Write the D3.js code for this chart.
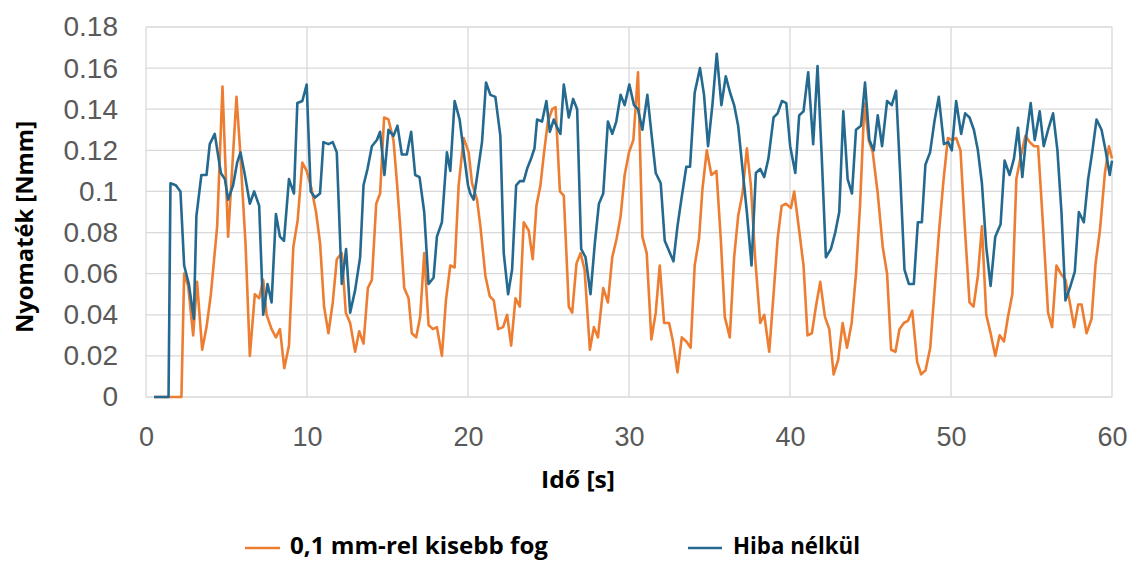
<!DOCTYPE html>
<html><head><meta charset="utf-8">
<script src="https://cdn.jsdelivr.net/npm/d3@7/dist/d3.min.js"></script>
<style>body{margin:0;background:#fff}svg{display:block}</style>
</head><body>
<svg id="c" width="1136" height="562"></svg>
<script>
const seriesNames = ["0,1 mm-rel kisebb fog", "Hiba nélkül"];
const xTicks = [0, 10, 20, 30, 40, 50, 60];
const yTicks = [0, 0.02, 0.04, 0.06, 0.08, 0.1, 0.12, 0.14, 0.16, 0.18];
const yTickLabels = ["0", "0.02", "0.04", "0.06", "0.08", "0.1", "0.12", "0.14", "0.16", "0.18"];
const xTitle = "Idő [s]";
const yTitle = "Nyomaték [Nmm]";

// [time s, torque Nmm]
const orange = [[0.5,0],[2.2,0],[2.37,0.060],[2.62,0.054],[2.93,0.030],[3.17,0.056],[3.49,0.023],[3.76,0.034],[4.03,0.050],[4.42,0.083],[4.75,0.151],[5.1,0.078],[5.62,0.146],[5.83,0.122],[6.18,0.075],[6.45,0.020],[6.76,0.050],[7.03,0.048],[7.28,0.057],[7.49,0.040],[7.8,0.033],[8.07,0.029],[8.32,0.033],[8.59,0.014],[8.88,0.025],[9.15,0.073],[9.42,0.086],[9.71,0.114],[9.98,0.110],[10.29,0.101],[10.56,0.090],[10.81,0.075],[11.06,0.044],[11.33,0.031],[11.6,0.046],[11.85,0.067],[12.16,0.070],[12.41,0.041],[12.68,0.036],[12.99,0.022],[13.24,0.032],[13.51,0.026],[13.78,0.053],[14.03,0.057],[14.3,0.094],[14.54,0.099],[14.79,0.136],[15.06,0.135],[15.37,0.125],[15.58,0.105],[15.79,0.083],[16.04,0.053],[16.31,0.048],[16.51,0.031],[16.78,0.029],[17.03,0.039],[17.28,0.070],[17.55,0.035],[17.82,0.033],[18.07,0.034],[18.38,0.020],[18.63,0.047],[18.9,0.064],[19.17,0.063],[19.42,0.103],[19.73,0.126],[20.04,0.119],[20.25,0.104],[20.56,0.096],[20.77,0.083],[21.08,0.059],[21.35,0.049],[21.6,0.047],[21.87,0.033],[22.18,0.034],[22.43,0.040],[22.68,0.025],[22.95,0.048],[23.22,0.044],[23.46,0.085],[23.77,0.081],[24.02,0.067],[24.25,0.093],[24.5,0.103],[24.71,0.118],[24.96,0.134],[25.23,0.140],[25.44,0.141],[25.71,0.100],[25.95,0.098],[26.26,0.044],[26.47,0.041],[26.74,0.065],[26.99,0.070],[27.24,0.062],[27.57,0.023],[27.82,0.034],[28.07,0.029],[28.4,0.053],[28.69,0.046],[28.96,0.068],[29.23,0.077],[29.48,0.088],[29.73,0.108],[30.0,0.119],[30.27,0.125],[30.56,0.158],[30.83,0.078],[31.1,0.070],[31.39,0.028],[31.66,0.041],[31.91,0.064],[32.18,0.036],[32.49,0.036],[32.73,0.027],[33.01,0.012],[33.28,0.029],[33.56,0.027],[33.83,0.024],[34.08,0.064],[34.35,0.077],[34.56,0.101],[34.83,0.120],[35.12,0.108],[35.43,0.110],[35.7,0.077],[35.95,0.039],[36.26,0.029],[36.53,0.068],[36.78,0.088],[37.05,0.099],[37.32,0.121],[37.57,0.103],[37.84,0.067],[38.15,0.036],[38.4,0.040],[38.71,0.022],[38.98,0.050],[39.23,0.077],[39.48,0.093],[39.75,0.094],[40.06,0.092],[40.26,0.100],[40.57,0.081],[40.84,0.064],[41.09,0.030],[41.36,0.031],[41.61,0.044],[41.88,0.056],[42.17,0.039],[42.44,0.033],[42.71,0.011],[42.99,0.018],[43.27,0.036],[43.54,0.024],[43.83,0.036],[44.1,0.060],[44.35,0.093],[44.62,0.143],[44.89,0.125],[45.14,0.119],[45.45,0.099],[45.76,0.073],[46.03,0.060],[46.28,0.023],[46.55,0.022],[46.8,0.033],[47.07,0.036],[47.32,0.037],[47.59,0.042],[47.9,0.017],[48.15,0.011],[48.42,0.013],[48.71,0.024],[48.98,0.052],[49.25,0.080],[49.54,0.106],[49.81,0.126],[50.07,0.125],[50.32,0.126],[50.59,0.120],[50.84,0.085],[51.15,0.046],[51.4,0.044],[51.67,0.059],[51.92,0.083],[52.19,0.040],[52.46,0.031],[52.75,0.020],[53.02,0.030],[53.29,0.027],[53.54,0.039],[53.81,0.050],[54.06,0.106],[54.33,0.117],[54.62,0.127],[54.89,0.124],[55.16,0.122],[55.41,0.122],[55.72,0.083],[56.03,0.041],[56.28,0.034],[56.55,0.064],[56.82,0.060],[57.11,0.057],[57.38,0.046],[57.65,0.034],[57.9,0.045],[58.11,0.045],[58.42,0.031],[58.73,0.038],[58.98,0.065],[59.25,0.081],[59.56,0.109],[59.81,0.122],[60.0,0.116]];

const blue = [[0.5,0],[1.4,0],[1.52,0.104],[1.85,0.103],[2.14,0.100],[2.37,0.064],[2.66,0.055],[2.97,0.038],[3.13,0.088],[3.44,0.108],[3.76,0.108],[3.96,0.123],[4.27,0.128],[4.65,0.109],[4.9,0.106],[5.1,0.096],[5.41,0.103],[5.66,0.114],[5.87,0.119],[6.14,0.108],[6.45,0.094],[6.72,0.100],[7.03,0.093],[7.28,0.040],[7.55,0.055],[7.8,0.046],[8.07,0.089],[8.32,0.078],[8.57,0.076],[8.88,0.106],[9.19,0.099],[9.4,0.143],[9.71,0.144],[9.98,0.152],[10.23,0.100],[10.5,0.097],[10.81,0.099],[11.02,0.124],[11.33,0.123],[11.6,0.124],[11.85,0.119],[12.16,0.055],[12.43,0.072],[12.68,0.041],[12.99,0.052],[13.3,0.068],[13.51,0.103],[13.76,0.111],[14.03,0.122],[14.34,0.125],[14.54,0.129],[14.81,0.108],[15.06,0.130],[15.37,0.127],[15.62,0.132],[15.89,0.118],[16.2,0.118],[16.47,0.129],[16.72,0.108],[16.99,0.107],[17.28,0.090],[17.55,0.055],[17.86,0.058],[18.07,0.078],[18.38,0.085],[18.69,0.119],[18.9,0.110],[19.17,0.144],[19.48,0.135],[19.8,0.115],[20.0,0.103],[20.14,0.099],[20.35,0.096],[20.56,0.107],[20.87,0.124],[21.12,0.153],[21.39,0.147],[21.7,0.146],[22.01,0.127],[22.22,0.070],[22.49,0.050],[22.74,0.062],[22.99,0.103],[23.22,0.105],[23.46,0.105],[23.67,0.111],[23.92,0.116],[24.13,0.121],[24.29,0.135],[24.6,0.134],[24.87,0.144],[25.08,0.129],[25.33,0.135],[25.54,0.131],[25.74,0.128],[25.95,0.152],[26.26,0.136],[26.53,0.145],[26.78,0.140],[27.03,0.072],[27.3,0.068],[27.61,0.050],[27.88,0.075],[28.13,0.094],[28.4,0.099],[28.69,0.134],[28.96,0.128],[29.21,0.134],[29.48,0.147],[29.73,0.142],[30.02,0.152],[30.31,0.142],[30.56,0.140],[30.83,0.130],[31.14,0.147],[31.41,0.127],[31.66,0.109],[31.97,0.104],[32.22,0.076],[32.49,0.071],[32.76,0.066],[33.01,0.083],[33.25,0.096],[33.56,0.112],[33.79,0.112],[34.08,0.148],[34.41,0.160],[34.66,0.147],[34.91,0.122],[35.18,0.142],[35.45,0.167],[35.74,0.142],[36.01,0.156],[36.28,0.148],[36.53,0.142],[36.78,0.132],[37.05,0.111],[37.32,0.090],[37.61,0.064],[37.88,0.109],[38.15,0.111],[38.4,0.107],[38.66,0.116],[38.98,0.136],[39.23,0.138],[39.5,0.144],[39.77,0.143],[40.01,0.122],[40.33,0.109],[40.57,0.137],[40.84,0.139],[41.13,0.158],[41.44,0.123],[41.71,0.161],[41.96,0.119],[42.23,0.068],[42.54,0.072],[42.81,0.080],[43.06,0.090],[43.31,0.139],[43.58,0.106],[43.85,0.099],[44.1,0.130],[44.41,0.132],[44.66,0.153],[44.93,0.125],[45.2,0.120],[45.45,0.137],[45.72,0.122],[46.03,0.144],[46.32,0.142],[46.59,0.149],[46.84,0.109],[47.11,0.062],[47.38,0.055],[47.69,0.055],[47.94,0.085],[48.19,0.085],[48.41,0.113],[48.7,0.119],[48.97,0.134],[49.24,0.146],[49.56,0.123],[49.83,0.124],[50.05,0.120],[50.32,0.144],[50.63,0.128],[50.88,0.138],[51.15,0.136],[51.42,0.130],[51.67,0.120],[51.92,0.104],[52.19,0.073],[52.46,0.054],[52.75,0.078],[53.08,0.084],[53.33,0.115],[53.64,0.108],[53.91,0.116],[54.16,0.131],[54.43,0.107],[54.68,0.127],[54.95,0.143],[55.2,0.125],[55.51,0.139],[55.76,0.122],[56.03,0.130],[56.34,0.138],[56.61,0.120],[56.86,0.090],[57.11,0.047],[57.38,0.053],[57.69,0.061],[57.94,0.090],[58.25,0.085],[58.52,0.106],[58.77,0.119],[59.04,0.135],[59.35,0.130],[59.6,0.120],[59.86,0.108],[60,0.115]];

const colors = ["#ED7D31", "#24698F"];

const svg = d3.select("#c");
svg.append("rect").attr("width",1136).attr("height",562).attr("fill","#fff");

const x = d3.scaleLinear().domain([0,60]).range([146,1112]);
const y = d3.scaleLinear().domain([0,0.18]).range([397,27]);

const grid = svg.append("g");
grid.selectAll("line.h").data(yTicks).join("line").attr("class","h")
  .attr("x1",x(0)).attr("x2",x(60)).attr("y1",d=>y(d)).attr("y2",d=>y(d))
  .attr("stroke","#d9d9d9").attr("stroke-width",1.3);
grid.selectAll("line.v").data(xTicks).join("line").attr("class","v")
  .attr("x1",d=>x(d)).attr("x2",d=>x(d)).attr("y1",y(0)).attr("y2",y(0.18))
  .attr("stroke","#d9d9d9").attr("stroke-width",1.3);

const yAxis = svg.append("g").attr("transform",`translate(${x(0)},0)`)
  .call(d3.axisLeft(y).tickValues(yTicks).tickFormat((d,i)=>yTickLabels[i]).tickSize(0).tickPadding(28));
yAxis.select(".domain").remove();
yAxis.selectAll("text").attr("font-family","'Liberation Sans', Arial, sans-serif").attr("font-size",28).attr("fill","#595959");

const xAxis = svg.append("g").attr("transform",`translate(0,${y(0)})`)
  .call(d3.axisBottom(x).tickValues(xTicks).tickFormat(d3.format("d")).tickSize(0).tickPadding(30));
xAxis.select(".domain").remove();
xAxis.selectAll("text").attr("font-family","'Liberation Sans', Arial, sans-serif").attr("font-size",27).attr("fill","#595959");

const line = d3.line().x(d=>x(d[0])).y(d=>y(d[1]));
[orange, blue].forEach((s,i)=>{
  svg.append("path").datum(s).attr("d",line).attr("fill","none")
    .attr("stroke",colors[i]).attr("stroke-width",2.6).attr("stroke-linejoin","round");
});

svg.append("text").attr("transform","translate(33,227) rotate(-90)")
  .attr("text-anchor","middle").attr("font-family","'Open Sans', sans-serif").attr("font-weight","bold")
  .attr("font-size",23).attr("fill","#000").attr("textLength",212).attr("lengthAdjust","spacingAndGlyphs").text(yTitle);
svg.append("text").attr("x",578).attr("y",488)
  .attr("text-anchor","middle").attr("font-family","'Open Sans', sans-serif").attr("font-weight","bold")
  .attr("font-size",24).attr("fill","#000").attr("textLength",74).attr("lengthAdjust","spacingAndGlyphs").text(xTitle);

const leg = [{x1:245,x2:280,tx:290,tl:258},{x1:688,x2:722,tx:733,tl:127}];
leg.forEach((l,i)=>{
  svg.append("line").attr("x1",l.x1).attr("x2",l.x2).attr("y1",548).attr("y2",548)
    .attr("stroke",colors[i]).attr("stroke-width",2.6);
  svg.append("text").attr("x",l.tx).attr("y",554).attr("font-family","'Open Sans', sans-serif")
    .attr("font-weight","bold").attr("font-size",23).attr("fill","#000")
    .attr("textLength",l.tl).attr("lengthAdjust","spacingAndGlyphs").text(seriesNames[i]);
});
</script>
</body></html>
